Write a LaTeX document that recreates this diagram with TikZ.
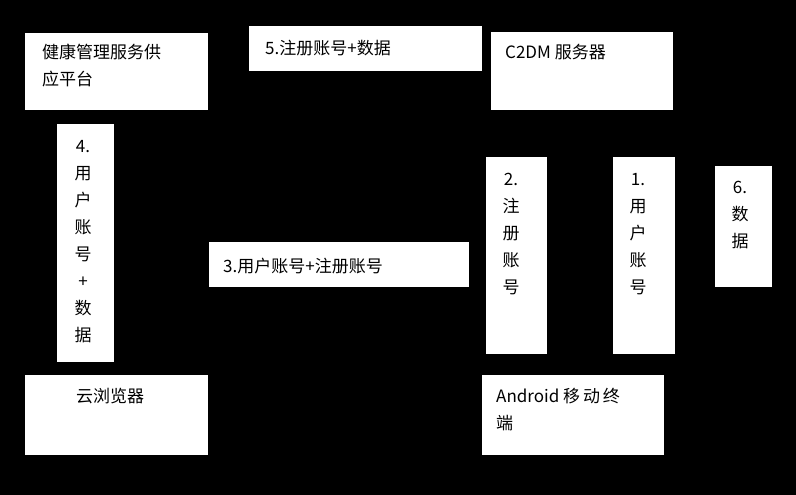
\documentclass[tikz,border=0pt]{standalone}
\usepackage{fontspec}
\setmainfont{Liberation Serif}
\newfontfamily\cjk{Noto Sans CJK SC}
\begin{document}
\begin{tikzpicture}[x=1pt,y=-1pt,
  bx/.style={fill=white,draw=none},
  tx/.style={anchor=north west,inner sep=0pt,font=\cjk\fontsize{17}{27}\selectfont,align=left},
  vt/.style={anchor=north,inner sep=0pt,font=\cjk\fontsize{17}{27}\selectfont,align=center}]
\fill[black] (0,0) rectangle (796,495);
\useasboundingbox (0,0) rectangle (796,495);
\fill[bx] (25,33) rectangle (208,110);
\node[tx] (a) at (42,44) {健康管理服务供\\应平台};
\fill[bx] (249,26) rectangle (482,71);
\node[tx] (b) at (265,40) {5.注册账号+数据};
\fill[bx] (491,32) rectangle (673,110);
\node[tx] (c) at (505,44) {C2DM 服务器};
\fill[bx] (57,124) rectangle (114,362);
\node[vt] (d) at (83,140) {4.\\用\\户\\账\\号\\+\\数\\据};
\fill[bx] (209,242) rectangle (469,287);
\node[tx] (e) at (223,258) {3.用户账号+注册账号};
\fill[bx] (486,157) rectangle (547,354);
\node[vt] (f) at (511,173) {2.\\注\\册\\账\\号};
\fill[bx] (613,157) rectangle (675,354);
\node[vt] (g) at (638,173) {1.\\用\\户\\账\\号};
\fill[bx] (715,166) rectangle (772,287);
\node[vt] (h) at (740,181) {6.\\数\\据};
\fill[bx] (25,375) rectangle (208,455);
\node[tx] (i) at (76,388) {云浏览器};
\fill[bx] (482,375) rectangle (664,455);
\node[tx] (j) at (496,388) {Android 移\,动\,终\\端};
\end{tikzpicture}
\end{document}
